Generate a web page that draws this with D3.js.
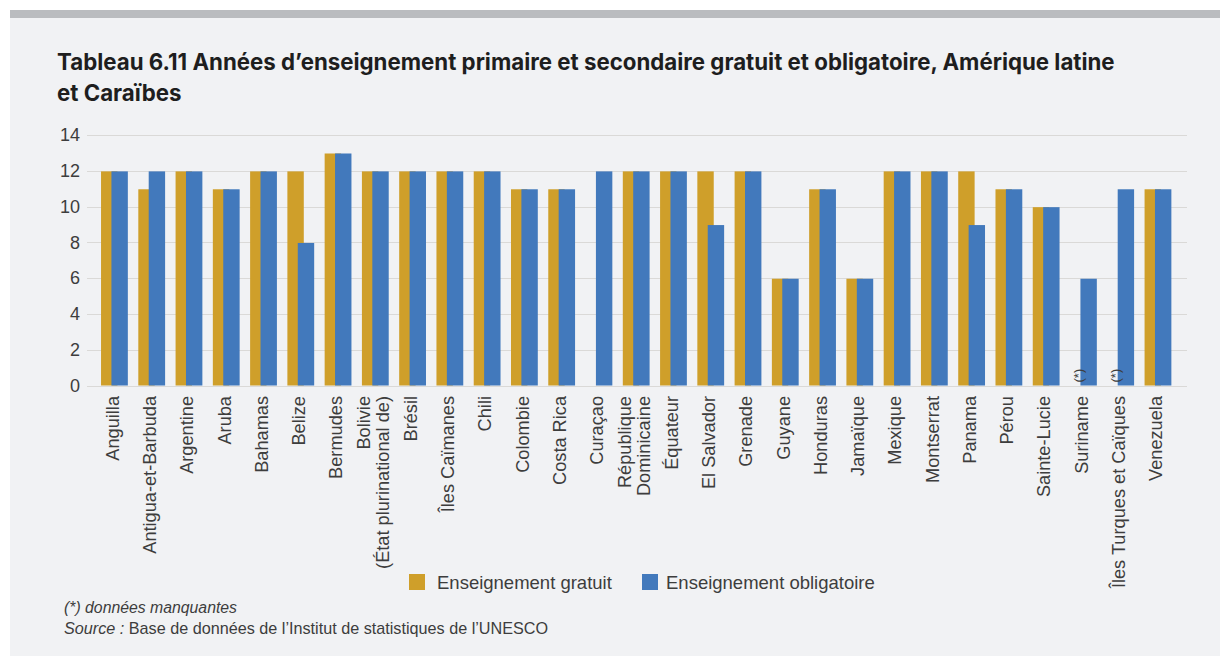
<!DOCTYPE html>
<html><head><meta charset="utf-8">
<script src="https://cdn.jsdelivr.net/npm/d3@7"></script>
<style>body{margin:0;background:#fff;} svg{display:block;}</style>
</head><body><svg id="c" width="1220" height="656"></svg>
<script>
// ---- data ----
const categories = ["Anguilla","Antigua-et-Barbuda","Argentine","Aruba","Bahamas","Belize","Bermudes",
  "Bolivie\n(État plurinational de)","Brésil","Îles Caïmanes","Chili","Colombie","Costa Rica","Curaçao",
  "République\nDominicaine","Équateur","El Salvador","Grenade","Guyane","Honduras","Jamaïque","Mexique",
  "Montserrat","Panama","Pérou","Sainte-Lucie","Suriname","Îles Turques et Caïques","Venezuela"];
const gratuit =     [12,11,12,11,12,12,13,12,12,12,12,11,11,null,12,12,12,12,6,11,6,12,12,12,11,10,null,null,11];
const obligatoire = [12,12,12,11,12, 8,13,12,12,12,12,11,11,12,  12,12, 9,12,6,11,6,12,12, 9,11,10,6,11,11];
const missingMarked = ["Suriname","Îles Turques et Caïques"];
const yTicks = [0,2,4,6,8,10,12,14];
const seriesNames = ["Enseignement gratuit","Enseignement obligatoire"];
const titleLines = ["Tableau 6.11 Années d\u2019enseignement primaire et secondaire gratuit et obligatoire, Amérique latine","et Caraïbes"];
const noteMissing = "(*) données manquantes";
const sourceLabel = "Source :";
const sourceText = " Base de données de l\u2019Institut de statistiques de l\u2019UNESCO";

// ---- style ----
const C_ORANGE = "#CF9F2A", C_BLUE = "#4279BC", C_TEXT = "#3d3d3d", C_GRID = "#dad9d7";
const FONT = "'Liberation Sans', Arial, Helvetica, sans-serif";

const svg = d3.select("#c");
svg.append("rect").attr("x",0).attr("y",0).attr("width",1220).attr("height",656).attr("fill","#fff");
svg.append("rect").attr("x",10).attr("y",18).attr("width",1210).attr("height",638).attr("fill","#f1f2f4");
svg.append("rect").attr("x",10).attr("y",10).attr("width",1210).attr("height",8).attr("fill","#babcbf");

// title
const title = svg.append("g");
titleLines.forEach((t,i)=>{
  title.append("text").attr("x",57).attr("y",70+i*31).text(t)
    .attr("font-family","Inter, 'Open Sans', sans-serif").attr("font-weight",700)
    .attr("font-size",20).attr("fill","#1e1e1e");
});
{
  const n = title.select("text").node();
  const w = n.getComputedTextLength();
  const fs = 20*1058/w;
  title.selectAll("text").attr("font-size",fs);
}

// scales
const y = d3.scaleLinear().domain([0,14]).range([385.5,135]);
const x = d3.scaleBand().domain(categories).range([95.7,1176.5]);
const BW = 16.4, OFF_O = -13.3, OFF_B = -2.9;
const cx = d => x(d) + x.bandwidth()/2;

// grid
svg.append("g").selectAll("line").data(yTicks).join("line")
  .attr("x1",87).attr("x2",1187).attr("y1",d=>Math.round(y(d))+0.5).attr("y2",d=>Math.round(y(d))+0.5)
  .attr("stroke",C_GRID).attr("stroke-width",1);

// y axis labels
const yAxis = d3.axisLeft(y).tickValues(yTicks).tickSize(0).tickPadding(0);
const ya = svg.append("g").attr("transform","translate(80,0)").call(yAxis);
ya.select(".domain").remove();
ya.selectAll("text").attr("font-family",FONT).attr("font-size",18).attr("fill",C_TEXT);

// bars
const rows = categories.map((c,i)=>({c, g:gratuit[i], o:obligatoire[i]}));
svg.append("g").selectAll("rect").data(rows.filter(r=>r.g!=null)).join("rect")
  .attr("x",d=>cx(d.c)+OFF_O).attr("width",BW)
  .attr("y",d=>y(d.g)+0.6).attr("height",d=>y(0)-y(d.g)-0.6).attr("fill",C_ORANGE);
svg.append("g").selectAll("rect").data(rows.filter(r=>r.o!=null)).join("rect")
  .attr("x",d=>cx(d.c)+OFF_B).attr("width",BW)
  .attr("y",d=>y(d.o)+0.6).attr("height",d=>y(0)-y(d.o)-0.6).attr("fill",C_BLUE);

// missing markers
svg.append("g").selectAll("text").data(missingMarked).join("text")
  .attr("transform",d=>`translate(${cx(d)+OFF_O+BW/2},${y(0)-3}) rotate(-90)`)
  .attr("dy","0.35em").attr("text-anchor","start")
  .attr("font-family",FONT).attr("font-size",13).attr("fill",C_TEXT).text("(*)");

// x labels
const xl = svg.append("g").selectAll("g").data(categories).join("g")
  .attr("transform",d=>`translate(${cx(d)-2},396) rotate(-90)`);
xl.each(function(d){
  const lines = d.split("\n");
  const t = d3.select(this).append("text").attr("text-anchor","end")
    .attr("font-family",FONT).attr("font-size",18.2).attr("fill",C_TEXT);
  const lh = 1.0;
  lines.forEach((ln,i)=>{
    t.append("tspan").attr("x",0)
      .attr("dy", i===0 ? (0.35 - lh*(lines.length-1)/2)+"em" : lh+"em").text(ln);
  });
});

// legend
const leg = [{n:seriesNames[0],c:C_ORANGE,x:409,tx:437},{n:seriesNames[1],c:C_BLUE,x:642,tx:666}];
const lg = svg.append("g").selectAll("g").data(leg).join("g");
lg.append("rect").attr("x",d=>d.x).attr("y",574).attr("width",16).attr("height",16).attr("fill",d=>d.c);
lg.append("text").attr("x",d=>d.tx).attr("y",589).text(d=>d.n)
  .attr("font-family",FONT).attr("font-size",18.5).attr("fill",C_TEXT);

// footnotes
svg.append("text").attr("x",64).attr("y",613).attr("font-family",FONT).attr("font-size",15.8)
  .attr("font-style","italic").attr("fill",C_TEXT).text(noteMissing);
const src = svg.append("text").attr("x",64).attr("y",634).attr("font-family",FONT).attr("font-size",16.2).attr("fill",C_TEXT);
src.append("tspan").attr("font-style","italic").text(sourceLabel);
src.append("tspan").text(sourceText);
</script></body></html>
